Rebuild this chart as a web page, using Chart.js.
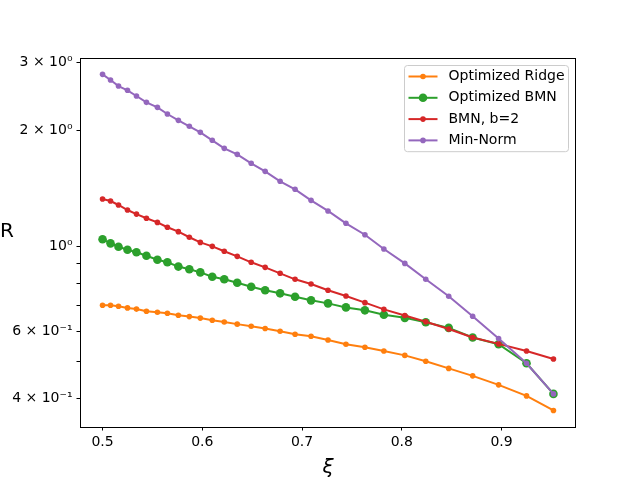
<!DOCTYPE html>
<html>
<head>
<meta charset="utf-8">
<script src="https://cdn.jsdelivr.net/npm/chart.js@4"></script>
<style>
  html, body { margin: 0; padding: 0; background: #fff; }
</style>
</head>
<body>
<canvas id="chart" width="640" height="480"></canvas>
<script>
/* ── Data ────────────────────────────────────────────────────────────────── */
const xi = [0.500, 0.508, 0.516, 0.525, 0.534, 0.544, 0.555, 0.565, 0.576, 0.587,
            0.598, 0.610, 0.622, 0.635, 0.649, 0.663, 0.678, 0.693, 0.709, 0.726,
            0.744, 0.763, 0.782, 0.803, 0.824, 0.847, 0.871, 0.897, 0.925, 0.952];

const ridge   = [0.701, 0.701, 0.697, 0.690, 0.685, 0.676, 0.672, 0.668, 0.660, 0.655,
                 0.649, 0.641, 0.634, 0.626, 0.618, 0.610, 0.600, 0.589, 0.582, 0.569,
                 0.555, 0.545, 0.533, 0.519, 0.501, 0.480, 0.459, 0.435, 0.407, 0.373];
const bmnOpt  = [1.041, 1.016, 0.996, 0.978, 0.963, 0.943, 0.921, 0.907, 0.884, 0.870,
                 0.854, 0.832, 0.819, 0.802, 0.783, 0.767, 0.753, 0.738, 0.722, 0.709,
                 0.692, 0.680, 0.662, 0.650, 0.633, 0.612, 0.578, 0.555, 0.495, 0.412];
const bmnB2   = [1.326, 1.310, 1.279, 1.241, 1.211, 1.181, 1.152, 1.119, 1.090, 1.054,
                 1.022, 0.998, 0.969, 0.940, 0.907, 0.880, 0.849, 0.819, 0.796, 0.767,
                 0.741, 0.712, 0.684, 0.659, 0.635, 0.608, 0.578, 0.556, 0.533, 0.508];
const minNorm = [2.800, 2.706, 2.610, 2.544, 2.459, 2.367, 2.297, 2.207, 2.125, 2.050,
                 1.977, 1.885, 1.796, 1.733, 1.642, 1.565, 1.474, 1.405, 1.315, 1.234,
                 1.146, 1.070, 0.982, 0.901, 0.819, 0.740, 0.656, 0.574, 0.495, 0.412];

const seriesNames = ['Optimized Ridge', 'Optimized BMN', 'BMN, b=2', 'Min-Norm'];
const xTicks = [0.5, 0.6, 0.7, 0.8, 0.9];
const yTicks = [0.4, 0.5, 0.6, 0.7, 0.8, 0.9, 1, 2, 3];
const yTickLabels = ['4 × 10⁻¹', '', '6 × 10⁻¹', '', '', '', '10⁰', '2 × 10⁰', '3 × 10⁰'];

/* ── Style ───────────────────────────────────────────────────────────────── */
const FONT = 'DejaVu Sans';
const colors = ['#ff7f0e', '#2ca02c', '#d62728', '#9467bd'];
const radii  = [2.8, 4.3, 2.8, 2.8];

function series(i, values) {
  return {
    label: seriesNames[i],
    data: xi.map((x, k) => ({ x, y: values[k] })),
    borderColor: colors[i],
    backgroundColor: colors[i],
    borderWidth: 2,
    pointRadius: radii[i],
    pointHoverRadius: radii[i],
    pointBorderWidth: 0,
    tension: 0,
    order: 3 - i,   // later series drawn on top, as in the original
  };
}

/* ── Plugins: frame, upright "R" label, legend box ──────────────────────── */
const framePlugin = {
  id: 'frame',
  afterDatasetsDraw(chart) {
    const { ctx, chartArea: a } = chart;
    ctx.save();
    ctx.strokeStyle = '#000';
    ctx.lineWidth = 1;
    ctx.strokeRect(a.left + 0.5, a.top + 0.5, a.right - a.left - 1, a.bottom - a.top);
    ctx.restore();
  }
};

const yLabelPlugin = {
  id: 'yLabel',
  afterDraw(chart) {
    const { ctx, chartArea: a } = chart;
    ctx.save();
    ctx.fillStyle = '#000';
    ctx.font = `20px "${FONT}"`;
    ctx.textAlign = 'left';
    ctx.textBaseline = 'middle';
    ctx.fillText('R', 0, (a.top + a.bottom) / 2 - 11);
    ctx.restore();
  }
};

const legendPlugin = {
  id: 'boxLegend',
  afterDraw(chart) {
    const { ctx, chartArea: a } = chart;
    const w = 164, rowH = 21.3;
    const left = a.right - 7.5 - w, top = a.top + 7.5;
    const h = rowH * seriesNames.length + 1;
    ctx.save();
    ctx.fillStyle = 'rgba(255,255,255,0.8)';
    ctx.strokeStyle = '#cccccc';
    ctx.lineWidth = 1;
    ctx.beginPath();
    ctx.roundRect(left, top, w, h, 3);
    ctx.fill();
    ctx.stroke();
    ctx.font = `14px "${FONT}"`;
    ctx.textBaseline = 'middle';
    ctx.textAlign = 'left';
    chart.data.datasets.forEach((ds, i) => {
      const y = top + 11 + i * rowH;
      ctx.strokeStyle = ds.borderColor;
      ctx.lineWidth = 2;
      ctx.beginPath();
      ctx.moveTo(left + 4, y);
      ctx.lineTo(left + 33, y);
      ctx.stroke();
      ctx.fillStyle = ds.backgroundColor;
      ctx.beginPath();
      ctx.arc(left + 18.5, y, ds.pointRadius, 0, Math.PI * 2);
      ctx.fill();
      ctx.fillStyle = '#000';
      ctx.fillText(ds.label, left + 44, y);
    });
    ctx.restore();
  }
};

/* ── Chart ───────────────────────────────────────────────────────────────── */
Chart.defaults.font.family = FONT;
Chart.defaults.color = '#000';

new Chart(document.getElementById('chart'), {
  type: 'line',
  data: {
    datasets: [series(0, ridge), series(1, bmnOpt), series(2, bmnB2), series(3, minNorm)],
  },
  options: {
    responsive: false,
    animation: false,
    devicePixelRatio: 1,
    layout: { padding: { top: 58, right: 64, left: 0, bottom: 0 } },
    plugins: { legend: { display: false }, tooltip: { enabled: false } },
    scales: {
      x: {
        type: 'linear',
        bounds: 'data',
        min: 0.4774,
        max: 0.9746,
        afterBuildTicks: s => { s.ticks = xTicks.map(v => ({ value: v })); },
        afterFit: s => { s.height = 53; },
        border: { display: false },
        grid: { drawOnChartArea: false, tickLength: 3.5, tickColor: '#000', tickWidth: 1 },
        ticks: {
          autoSkip: false, maxRotation: 0, padding: 3,
          font: { size: 14 }, color: '#000',
          callback: v => v.toFixed(1),
        },
        title: {
          display: true, text: 'ξ', color: '#000',
          font: { size: 20, style: 'italic' },
          padding: { top: 0, bottom: 0 },
        },
      },
      y: {
        type: 'logarithmic',
        bounds: 'data',
        min: 0.3378,
        max: 3.088,
        afterBuildTicks: s => { s.ticks = yTicks.map(v => ({ value: v })); },
        afterFit: s => { s.width = 80; },
        border: { display: false },
        grid: { drawOnChartArea: false, tickLength: 3.5, tickColor: '#000', tickWidth: 1 },
        ticks: {
          autoSkip: false, padding: 4,
          font: { size: 14 }, color: '#000',
          callback: v => yTickLabels[yTicks.indexOf(v)] || '',
        },
      },
    },
  },
  plugins: [framePlugin, yLabelPlugin, legendPlugin],
});
</script>
</body>
</html>
